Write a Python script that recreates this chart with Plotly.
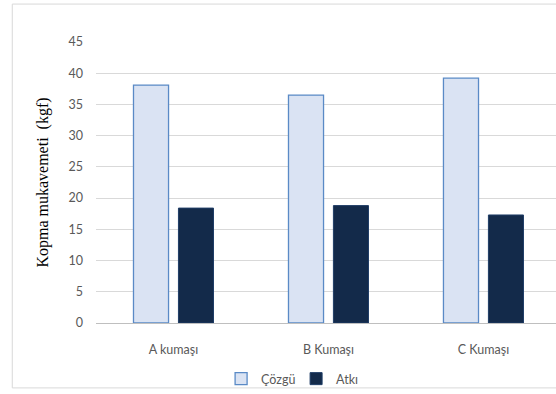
import plotly.graph_objects as go

# Fabric samples and breaking strength values (kgf)
categories = ["A kumaşı", "B Kumaşı", "C Kumaşı"]
cozgu = [38.1, 36.5, 39.2]   # warp direction
atki = [18.4, 18.8, 17.3]    # weft direction
y_ticks = [0, 5, 10, 15, 20, 25, 30, 35, 40, 45]

fig = go.Figure()
fig.add_trace(go.Bar(
    name="Çözgü", x=categories, y=cozgu,
    marker=dict(color="#dae3f3", line=dict(color="#5a8ac6", width=1.3)),
))
fig.add_trace(go.Bar(
    name="Atkı", x=categories, y=atki,
    marker=dict(color="#132a4a", line=dict(color="#1f3d66", width=1)),
))

tick_font = dict(family="Lato, 'Open Sans', sans-serif", size=12.5, color="#595959")

fig.update_layout(
    width=556, height=394,
    margin=dict(l=96, r=0, t=42, b=71),
    paper_bgcolor="white", plot_bgcolor="white",
    barmode="group", bargap=0.42, bargroupgap=0.22,
    font=tick_font,
    showlegend=True,
    legend=dict(
        orientation="h", x=0.435, xanchor="center", y=-0.2, yanchor="middle",
        font=tick_font, itemwidth=30, traceorder="normal",
        entrywidth=30, entrywidthmode="pixels",
        bgcolor="rgba(0,0,0,0)",
    ),
    xaxis=dict(
        type="category", range=[-0.5, 2.468],
        showgrid=False, showline=False, zeroline=False,
        ticks="", tickfont=tick_font, ticklabelstandoff=17,
    ),
    yaxis=dict(
        range=[0, 45], tickvals=y_ticks,
        showgrid=True, gridcolor="#d9d9d9", gridwidth=1,
        zeroline=True, zerolinecolor="#bfbfbf", zerolinewidth=1,
        showline=False, ticks="", tickfont=tick_font, ticklabelstandoff=12,
        title=dict(
            text="Kopma mukavemeti  (kgf)",
            font=dict(family="'Liberation Serif', 'DejaVu Serif', serif", size=16, color="#000000"),
            standoff=15,
        ),
    ),
    shapes=[dict(
        type="rect", xref="paper", yref="paper",
        x0=-0.182, x1=1.05, y0=-0.231, y1=1.135,
        line=dict(color="#d9d9d9", width=1), fillcolor="rgba(0,0,0,0)", layer="below",
    )],
)

fig.write_html("out.html")
